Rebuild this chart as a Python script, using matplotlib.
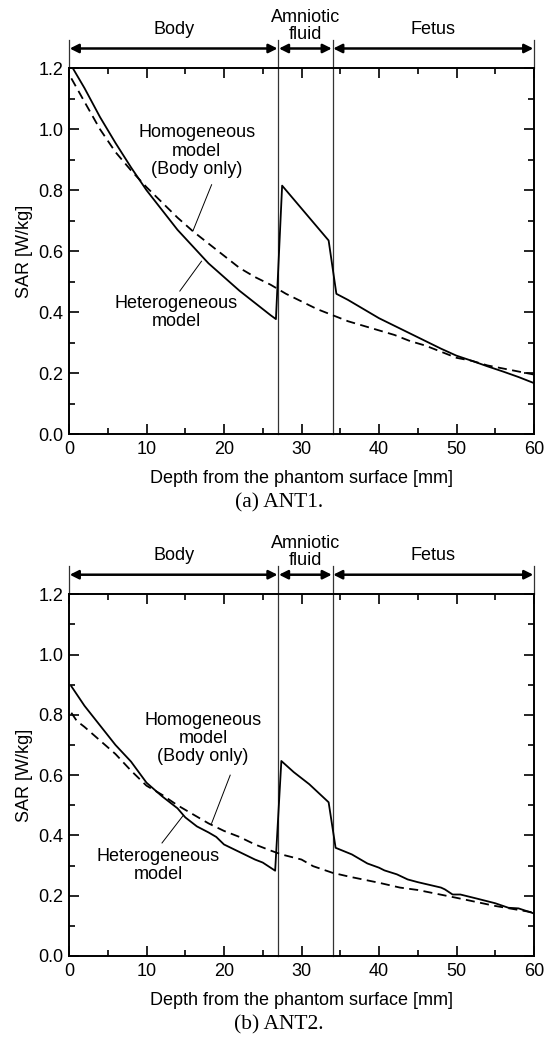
import matplotlib
matplotlib.use("Agg")
import matplotlib.pyplot as plt
from matplotlib.ticker import MultipleLocator

plt.rcParams['font.family'] = ['Liberation Sans', 'DejaVu Sans']
plt.rcParams['font.size'] = 13

# region boundaries along the depth axis [mm]
region_edges = [0, 27, 34, 60]
region_names = ["Body", "Amniotic\nfluid", "Fetus"]

# ANT1 - heterogeneous model (solid)
ant1_het_x = [0.5, 2, 4, 6, 8, 10, 12, 14, 16, 18, 20, 22, 24, 26, 26.7,
              27.5, 29, 31, 33.5, 34.5, 36, 38, 40, 42, 44, 46, 48, 50,
              52, 54, 56, 58, 60]
ant1_het_y = [1.2, 1.135, 1.04, 0.955, 0.875, 0.80, 0.735, 0.67, 0.615, 0.56,
              0.515, 0.47, 0.43, 0.39, 0.377,
              0.815, 0.77, 0.71, 0.635, 0.46, 0.44, 0.41, 0.38, 0.355, 0.33,
              0.305, 0.28, 0.257, 0.24, 0.222, 0.205, 0.187, 0.167]

# ANT1 - homogeneous model, body only (dashed)
ant1_hom_x = [0.3, 2, 4, 6, 8, 10, 12, 14, 16, 18, 20, 22, 24, 26, 28, 30,
              32, 34, 36, 38, 40, 42, 44, 46, 48, 50, 52, 54, 56, 58, 60]
ant1_hom_y = [1.167, 1.09, 1.0, 0.925, 0.865, 0.81, 0.76, 0.71, 0.665, 0.625,
              0.585, 0.545, 0.515, 0.49, 0.46, 0.435, 0.41, 0.39, 0.37, 0.355,
              0.34, 0.325, 0.305, 0.29, 0.27, 0.25, 0.24, 0.225, 0.215, 0.205,
              0.195]

# ANT2 - heterogeneous model (solid)
ant2_het_x = [0.3, 2, 4, 6, 8, 10, 12, 14, 15, 16.5, 18, 19, 20, 22, 24, 25,
              26.6, 27.4, 29, 31, 33.5, 34.4, 36.5, 38.5, 40, 40.7, 42.3,
              43.7, 45, 48, 48.5, 49.5, 50.5, 52.7, 55, 56.7, 58, 60]
ant2_het_y = [0.895, 0.83, 0.765, 0.70, 0.645, 0.575, 0.53, 0.49, 0.46, 0.43,
              0.41, 0.395, 0.37, 0.345, 0.32, 0.31, 0.283,
              0.647, 0.61, 0.57, 0.51, 0.359, 0.337, 0.307, 0.293, 0.284,
              0.271, 0.254, 0.245, 0.227, 0.221, 0.204, 0.204, 0.19, 0.175,
              0.16, 0.158, 0.141]

# ANT2 - homogeneous model, body only (dashed)
ant2_hom_x = [0.3, 1, 2, 4, 6, 8, 10, 12, 14, 16, 18, 20, 22, 24, 26, 27.4,
              30, 31.5, 34, 36.2, 40, 42.7, 45, 50, 55, 60]
ant2_hom_y = [0.807, 0.78, 0.76, 0.715, 0.67, 0.615, 0.565, 0.535, 0.50, 0.47,
              0.44, 0.415, 0.395, 0.37, 0.35, 0.337,
              0.32, 0.298, 0.276, 0.263, 0.243, 0.227, 0.219, 0.193, 0.166,
              0.144]

W, H = 553, 1041
fig = plt.figure(figsize=(W / 100, H / 100), dpi=100)


def draw_panel(ax, het_x, het_y, hom_x, hom_y, caption, hom_txt, hom_ptr,
               het_txt, het_ptr):
    ax.plot(het_x, het_y, color='black', lw=1.3, zorder=3)
    ax.plot(hom_x, hom_y, color='black', lw=1.3, linestyle=(0, (5, 3)), zorder=3)

    ax.set_xlim(0, 60)
    ax.set_ylim(0, 1.2)
    ax.xaxis.set_major_locator(MultipleLocator(10))
    ax.xaxis.set_minor_locator(MultipleLocator(5))
    ax.yaxis.set_major_locator(MultipleLocator(0.2))
    ax.yaxis.set_minor_locator(MultipleLocator(0.1))
    ax.yaxis.set_major_formatter(plt.FuncFormatter(lambda v, p: f"{v:.1f}"))
    ax.tick_params(which='both', direction='in', top=True, right=True,
                   width=1.2, labelsize=13)
    ax.tick_params(which='major', length=7)
    ax.tick_params(which='minor', length=4)
    ax.tick_params(axis='x', pad=5)
    ax.tick_params(axis='y', pad=4)
    for s in ax.spines.values():
        s.set_linewidth(1.4)

    ax.set_xlabel("Depth from the phantom surface [mm]", fontsize=13, labelpad=9)
    ax.set_ylabel("SAR [W/kg]", fontsize=13, labelpad=4)

    # region boundaries and arrows above the frame
    for xe in region_edges:
        y0 = 1.2 if xe in (region_edges[0], region_edges[-1]) else 0.0
        ax.plot([xe, xe], [y0, 1.293], color='#333333', lw=0.9,
                clip_on=False, zorder=2)
    for i, name in enumerate(region_names):
        a, b = region_edges[i], region_edges[i + 1]
        ax.annotate("", xy=(b, 1.265), xytext=(a, 1.265),
                    arrowprops=dict(arrowstyle='<|-|>', color='black', lw=1.8,
                                    mutation_scale=13, shrinkA=0.5, shrinkB=0.5),
                    annotation_clip=False)
        yt = 1.34 if "\n" in name else 1.328
        ax.text((a + b) / 2, yt, name, ha='center', va='center', fontsize=13,
                linespacing=1.0, clip_on=False)

    ax.text(hom_txt[0], hom_txt[1], "Homogeneous\nmodel\n(Body only)",
            ha='center', va='center', fontsize=13, linespacing=1.1)
    ax.plot(hom_ptr[0], hom_ptr[1], color='black', lw=0.7)
    ax.text(het_txt[0], het_txt[1], "Heterogeneous\nmodel",
            ha='center', va='center', fontsize=13, linespacing=1.1)
    ax.plot(het_ptr[0], het_ptr[1], color='black', lw=0.7)

    fig.text(279 / W, ax.get_position().y0 - 69 / H, caption,
             ha='center', va='center', fontsize=15.5,
             family=['Liberation Serif', 'DejaVu Serif'])


left, right = 69 / W, 534 / W
ax1 = fig.add_axes([left, 1 - 434 / H, right - left, (434 - 68.3) / H])
ax2 = fig.add_axes([left, 1 - 956 / H, right - left, (956 - 594.3) / H])

draw_panel(ax1, ant1_het_x, ant1_het_y, ant1_hom_x, ant1_hom_y, "(a) ANT1.",
           (16.5, 0.928), ([18.4, 16.0], [0.818, 0.667]),
           (13.8, 0.398), ([14.3, 17.1], [0.469, 0.567]))
draw_panel(ax2, ant2_het_x, ant2_het_y, ant2_hom_x, ant2_hom_y, "(b) ANT2.",
           (17.3, 0.722), ([20.8, 18.4], [0.6, 0.44]),
           (11.5, 0.301), ([12.0, 14.7], [0.375, 0.465]))

fig.savefig("out.png", dpi=100)
